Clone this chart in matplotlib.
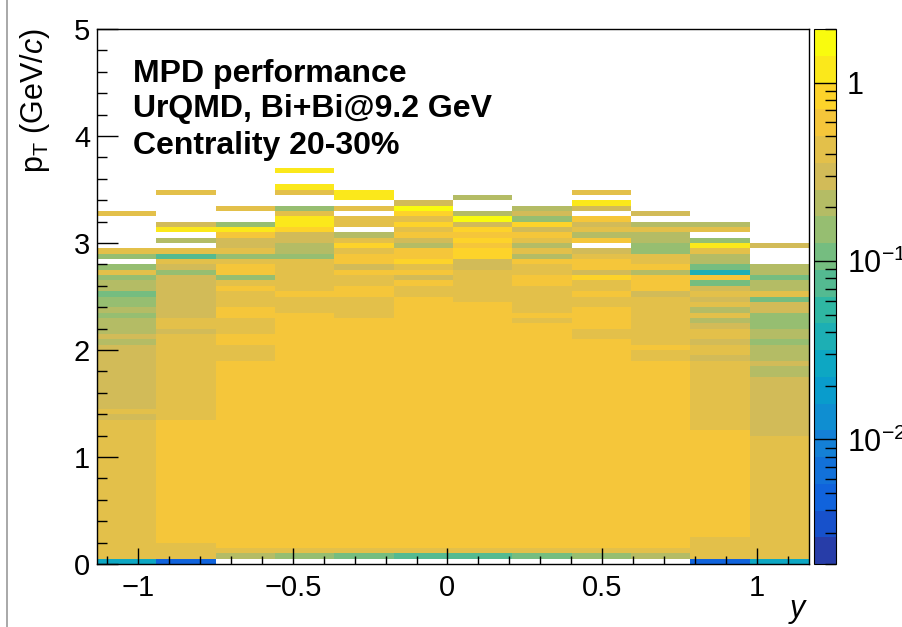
import numpy as np
import matplotlib
matplotlib.use("Agg")
import matplotlib.pyplot as plt
from matplotlib.colors import LogNorm, ListedColormap, LinearSegmentedColormap
from matplotlib.ticker import MultipleLocator, LogLocator, NullFormatter
from matplotlib.lines import Line2D

plt.rcParams['font.family'] = ['Liberation Sans', 'DejaVu Sans']
plt.rcParams['mathtext.fontset'] = 'custom'
plt.rcParams['mathtext.rm'] = 'Liberation Sans'
plt.rcParams['mathtext.it'] = 'Liberation Sans:italic'
plt.rcParams['mathtext.bf'] = 'Liberation Sans:bold'

# binning: 12 rapidity bins, pT bins of 0.05 GeV/c
y_edges = np.linspace(-1.133, 1.169, 13)
pt_edges = np.linspace(0.0, 5.0, 101)

# bin contents per rapidity column, from pT = 0 upwards (0 = empty bin)
col01 = [0.027] + [0.40]*26 + [0.28, 0.40] + [0.28]*12 + [0.19, 0.28] + [0.19]*3 + \
        [0.15, 0.19, 0.15, 0.15, 0.106, 0.19, 0.19, 0.15, 0.40, 0.15, 0, 0.15, 0.40] + \
        [0]*6 + [0.40]
col02 = [0.0047] + [0.40]*3 + [0.58]*23 + [0.40]*16 + [0.28, 0.40, 0.40] + [0.28]*8 + \
        [0.15, 0.28, 0.40, 0.075, 0.40, 0, 0.19, 0, 1.2, 0.28] + [0]*5 + [0.40]
col03 = [0, 0.19, 0.40] + [0.58]*35 + [0.40]*3 + [0.58]*2 + [0.40]*3 + [0.58]*2 + \
        [0.40]*3 + [0.58, 0.40, 0.15, 0.58, 0.58, 0.40, 0.15, 0.40, 0.28, 0.28, 0.58,
                    1.2, 0.15, 0, 0, 0.40]
col04 = [0, 0.15, 0.40] + [0.58]*44 + [0.40]*3 + [0.58] + [0.40]*6 + \
        [0.15, 0.19, 0.19, 0.28, 0.28, 0.84, 1.2, 1.2, 0.40, 0.15, 0, 0, 0.40, 1.2, 0, 0, 1.2]
col05 = [0, 0.106, 0.40] + [0.58]*43 + [0.40]*4 + \
        [0.58, 0.58, 0.40, 0.40, 0.58, 0.28, 0.58, 0.58, 0.40, 0.84, 0.40, 0.19, 0,
         0.40, 0.40, 0, 0.40, 0, 1.2, 1.2]
col06 = [0, 0.075, 0.40] + [0.58]*47 + \
        [0.40, 0.40, 0.58, 0.28, 0.58, 0.40, 0.84, 0.58, 0.58, 0.19, 0.28, 0.58, 0.40,
         0.84, 0.40, 0.84, 1.7, 0.28]
col07 = [0, 0.075, 0.40] + [0.58]*46 + [0.40]*6 + \
        [0.28, 0.28, 0.84, 0.84, 0.58, 0.84, 0.58, 0.84, 0.28, 1.7, 0.19, 0, 0, 0.19]
col08 = [0, 0.106, 0.40] + [0.58]*42 + [0.40, 0.58] + [0.40]*5 + \
        [0.58, 0.58, 0.40, 0.40, 0.58, 0.19, 0.40, 0.19, 0.40, 0.58, 0.28, 0.84, 0.15,
         0.28, 0.19]
col09 = [0, 0.15, 0.40] + [0.58]*39 + [0.40]*2 + [0.58]*4 + \
        [0.40, 0.40, 0.58, 0.40, 0.40, 0.84, 0.28, 0.58, 0.58, 0.40, 0.28, 0, 0.58, 0.19,
         0.40, 0.28, 0.58, 0, 0.28, 1.2, 0, 0.40]
col10 = [0, 0.19, 0.40] + [0.58]*35 + [0.40, 0.40, 0.58] + [0.40]*9 + \
        [0.28, 0.58, 0.58, 0.58, 0.19, 0.58, 0.40, 0.40, 0.15, 0.15, 0.19, 0.19, 0.40,
         0.19, 0, 0.28]
col11 = [0.0047] + [0.40]*4 + [0.58]*20 + [0.40]*13 + \
        [0.28, 0.40, 0.40, 0.28, 0.40, 0.40, 0.28, 0.19, 0.40, 0.19, 0.40, 0.28, 0.40,
         0.28, 0.106, 0.58, 0.038, 0.106, 0.19, 0.19, 0.40, 1.2, 0.15, 0, 0.40, 0.19]
col12 = [0.027] + [0.40]*23 + [0.28]*11 + [0.19, 0.19, 0.28] + [0.19]*3 + \
        [0.15, 0.19, 0.19, 0.15, 0.15, 0.15, 0.28, 0.28, 0.106, 0.40, 0.19, 0.19,
         0.106, 0.19, 0.19, 0, 0, 0, 0.28]
columns = [col01, col02, col03, col04, col05, col06, col07, col08, col09, col10, col11, col12]

z_min, z_max = 0.002, 2.0
n_contours = 20

# ROOT kBird palette
bird_stops = [0.0, 0.125, 0.25, 0.375, 0.5, 0.625, 0.75, 0.875, 1.0]
bird_r = [0.2082, 0.0592, 0.0780, 0.0232, 0.1802, 0.5301, 0.8186, 0.9956, 0.9764]
bird_g = [0.1664, 0.3599, 0.5041, 0.6419, 0.7178, 0.7492, 0.7328, 0.7862, 0.9832]
bird_b = [0.5293, 0.8684, 0.8385, 0.7914, 0.6425, 0.4662, 0.3499, 0.1968, 0.0539]
bird = LinearSegmentedColormap.from_list(
    "bird", [(s, (r, g, b)) for s, r, g, b in zip(bird_stops, bird_r, bird_g, bird_b)])
band_colors = [bird(int((i + 0.99) * 255 / n_contours) / 254) for i in range(n_contours)]
cmap = ListedColormap(band_colors)
norm = LogNorm(vmin=z_min, vmax=z_max)

z = np.zeros((len(pt_edges) - 1, len(columns)))
for j, col in enumerate(columns):
    z[:len(col), j] = col
z = np.ma.masked_less_equal(z, 0)

W, H = 903, 627
fig = plt.figure(figsize=(W / 100, H / 100), dpi=100)
ax = fig.add_axes([97 / W, 1 - 564 / H, 712 / W, 535 / H])
mesh = ax.pcolormesh(y_edges, pt_edges, z, cmap=cmap, norm=norm, shading='flat',
                     edgecolors='none')
ax.set_xlim(y_edges[0], y_edges[-1])
ax.set_ylim(0, 5)

ax.set_xticks([-1, -0.5, 0, 0.5, 1])
ax.set_xticklabels(['\u22121', '\u22120.5', '0', '0.5', '1'])
ax.set_yticks([0, 1, 2, 3, 4, 5])
ax.set_yticklabels(['0', '1', '2', '3', '4', '5'])
ax.xaxis.set_minor_locator(MultipleLocator(0.1))
ax.yaxis.set_minor_locator(MultipleLocator(0.2))
ax.tick_params(which='both', direction='in', top=False, right=False, width=1,
               color='black', labelsize=21)
ax.xaxis.set_tick_params(which='major', length=11.5, pad=7)
ax.xaxis.set_tick_params(which='minor', length=5.8)
ax.yaxis.set_tick_params(which='major', length=15, pad=5)
ax.yaxis.set_tick_params(which='minor', length=7.5)
for s in ax.spines.values():
    s.set_linewidth(1.0)

fig.text(35 / W, 1 - 28 / H, r'p$_{\mathrm{T}}$ (GeV/$c$)', rotation=90,
         ha='center', va='top', fontsize=22)
fig.text(797 / W, 1 - 609 / H, 'y', style='italic', ha='center', va='center', fontsize=22)

info = ['MPD performance', 'UrQMD, Bi+Bi@9.2 GeV', 'Centrality 20-30%']
for k, line in enumerate(info):
    ax.text(0.0506, [0.916, 0.850, 0.781][k], line, transform=ax.transAxes,
            fontsize=23, fontweight='bold', ha='left', va='center')

cax = fig.add_axes([814 / W, 1 - 564 / H, 22 / W, 535 / H])
cb = fig.colorbar(mesh, cax=cax)
cb.set_ticks([0.01, 0.1, 1])
cb.set_ticklabels([r'$10^{-2}$', r'$10^{-1}$', '1'])
cax.yaxis.set_minor_locator(LogLocator(base=10, subs=np.arange(2, 10)))
cax.yaxis.set_minor_formatter(NullFormatter())
cax.tick_params(which='major', direction='in', length=16, width=1, labelsize=22, pad=8)
cax.tick_params(which='minor', direction='in', length=8, width=1)
cb.outline.set_linewidth(0.8)

fig.add_artist(Line2D([7 / W, 7 / W], [0.0, 1.0], color='#9a9a9a', linewidth=1.2))

fig.savefig('out.png', dpi=100)
